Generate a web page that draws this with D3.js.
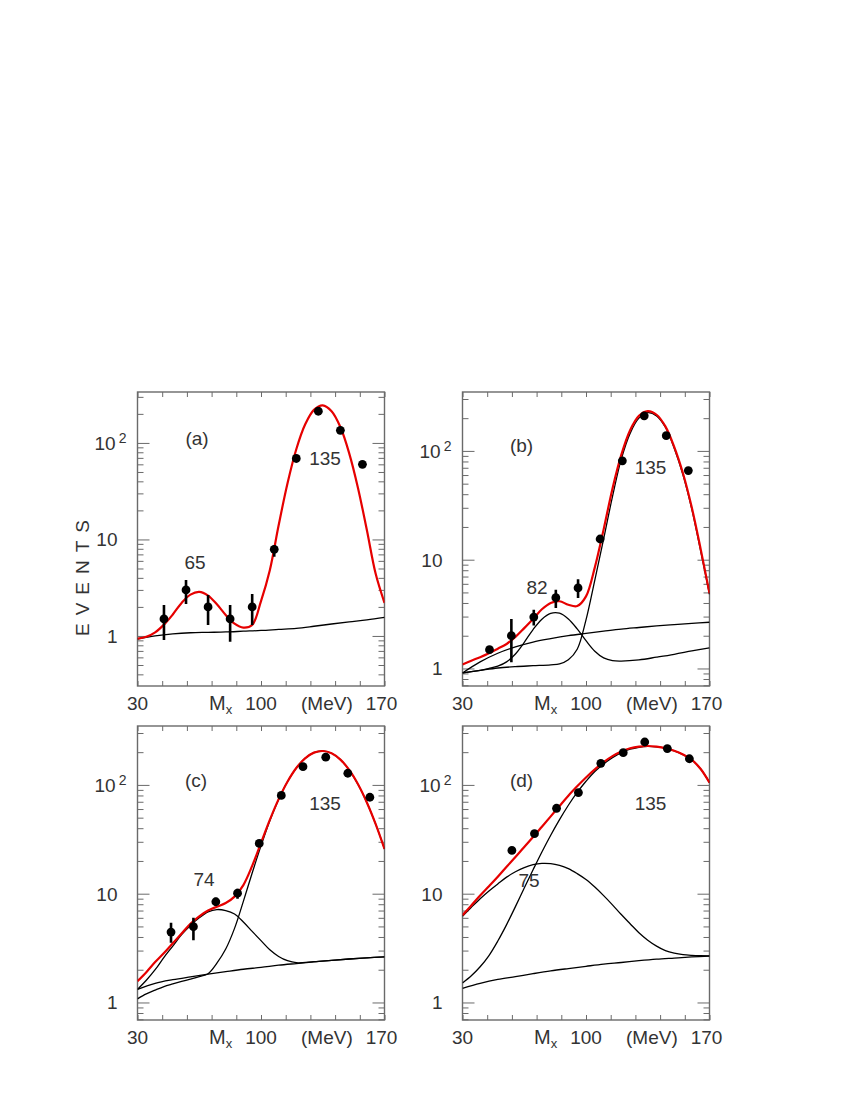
<!DOCTYPE html>
<html>
<head>
<meta charset="utf-8">
<script src="https://cdn.jsdelivr.net/npm/d3@7"></script>
<style>
  body { margin: 0; background: #fff; }
  svg text { font-family: "Liberation Sans", Arial, sans-serif; fill: #333; }
</style>
</head>
<body>
<svg id="chart" width="850" height="1100"></svg>
<script>
// ---- data ----
const xTickValues = [30, 44, 58, 72, 86, 100, 114, 128, 142, 156, 170];
const xTickLabelValues = [30, 100, 170];
const xTickLabels = ['30', '100', '170'];
const yTickLabelValues = [1, 10, 100];
const yTickBase = ['1', '10', '10'];
const yTickExp = ['', '', '2'];

// (a)
const massA = [45, 57.5, 70, 82.5, 95, 107.5, 120, 132.5, 145, 157.5];
const eventsA = [1.5, 3.0, 2.0, 1.5, 2.0, 7.9, 69, 213, 135, 60];
const errLoA = [0.91, 2.14, 1.3, 0.87, 1.3, 6.6, null, null, null, null];
const errHiA = [2.09, 3.8, 2.66, 2.09, 2.72, 8.7, null, null, null, null];
const fitA = [[30, 0.94], [35, 0.98], [40, 1.09], [45, 1.31], [50, 1.67], [55, 2.2], [60, 2.68], [65, 2.86],
  [70, 2.62], [75, 2.13], [80, 1.65], [85, 1.34], [90, 1.22], [95, 1.3], [100, 2.3], [105, 4.8], [110, 14],
  [115, 38], [120, 86], [125, 155], [130, 220], [135, 245], [140, 213], [145, 146], [150, 78], [155, 34],
  [160, 12.5], [165, 4.4], [170, 2.2]];
const bgA = [[30, 0.93], [40, 1.0], [50, 1.05], [60, 1.08], [70, 1.09], [80, 1.1], [90, 1.12], [100, 1.14],
  [110, 1.17], [120, 1.2], [130, 1.26], [140, 1.33], [150, 1.4], [160, 1.47], [170, 1.56]];

// (b)
const massB = [45.3, 57.7, 70.4, 82.9, 95.5, 108, 120.6, 133, 145.5, 158];
const eventsB = [1.49, 2.0, 2.97, 4.47, 5.5, 15.5, 81, 210, 138, 66];
const errLoB = [null, 1.14, 2.48, 3.59, 4.44, null, null, null, null, null];
const errHiB = [null, 2.85, 3.47, 5.29, 6.62, null, null, null, null, null];
const fitB = [[30, 1.09], [35, 1.18], [40, 1.27], [45, 1.38], [50, 1.52], [55, 1.68], [60, 1.95], [65, 2.35],
  [70, 2.85], [75, 3.5], [80, 4.0], [85, 4.15], [90, 3.85], [95, 3.75], [100, 4.6], [105, 8.5], [110, 19],
  [115, 45], [120, 92], [125, 155], [130, 210], [135, 232], [140, 215], [145, 168], [150, 109], [155, 62],
  [160, 30], [165, 12.5], [170, 4.9]];
const bgB = [[30, 0.91], [40, 1.15], [50, 1.38], [60, 1.58], [70, 1.75], [80, 1.88], [90, 2.0], [100, 2.1],
  [110, 2.2], [120, 2.3], [130, 2.38], [140, 2.46], [150, 2.53], [160, 2.6], [170, 2.66]];
const peak82B = [[30, 0.91], [40, 0.96], [45, 1.0], [50, 1.05], [55, 1.15], [60, 1.36], [65, 1.74], [70, 2.28],
  [75, 2.84], [80, 3.21], [85, 3.22], [90, 2.85], [95, 2.31], [100, 1.8], [105, 1.44], [110, 1.25], [115, 1.18],
  [120, 1.17], [130, 1.2], [140, 1.27], [150, 1.35], [160, 1.45], [170, 1.55]];
const peak135B = [[30, 0.91], [40, 0.96], [50, 1.01], [60, 1.04], [70, 1.06], [80, 1.08], [85, 1.1], [90, 1.2],
  [95, 1.5], [100, 2.8], [105, 6.5], [110, 15.5], [115, 38], [120, 84], [125, 145], [130, 200], [135, 225],
  [140, 210], [145, 165], [150, 106], [155, 60], [160, 29], [165, 12], [170, 4.8]];

// (c)
const massC = [49.0, 61.7, 74.4, 86.7, 99.0, 111.5, 123.8, 136.7, 149.2, 161.7];
const eventsC = [4.44, 4.97, 8.43, 10.1, 29, 80, 147, 180, 128, 77];
const errLoC = [3.54, 3.74, 7.7, 9.0, null, null, null, null, null, null];
const errHiC = [5.41, 6.01, 9.2, 11.1, null, null, null, null, null, null];
const fitC = [[30, 1.57], [35, 1.9], [40, 2.35], [45, 2.85], [50, 3.5], [55, 4.3], [60, 5.3], [65, 6.2],
  [70, 7.0], [75, 7.6], [80, 8.2], [85, 9.4], [90, 12], [95, 18], [100, 29.3], [105, 47.7], [110, 74],
  [115, 107], [120, 143], [125, 175.5], [130, 198], [135, 205], [140, 195.5], [145, 171], [150, 137.3],
  [155, 101.3], [160, 69], [165, 43.6], [170, 25.8]];
const bgC = [[30, 1.32], [40, 1.5], [50, 1.62], [60, 1.72], [70, 1.82], [80, 1.92], [90, 2.02], [100, 2.1],
  [110, 2.2], [120, 2.28], [130, 2.36], [140, 2.44], [150, 2.51], [160, 2.57], [170, 2.63]];
const peak74C = [[30, 1.32], [35, 1.6], [40, 2.0], [45, 2.6], [50, 3.3], [55, 4.2], [60, 5.1], [65, 6.0],
  [70, 6.8], [75, 7.15], [80, 7.0], [85, 6.5], [90, 5.5], [95, 4.5], [100, 3.7], [105, 3.05], [110, 2.65],
  [115, 2.42], [120, 2.32], [130, 2.37], [140, 2.44], [150, 2.51], [160, 2.57], [170, 2.63]];
const peak135C = [[30, 1.08], [35, 1.2], [40, 1.3], [45, 1.4], [50, 1.48], [55, 1.56], [60, 1.64], [65, 1.73],
  [70, 1.84], [75, 2.3], [80, 3.1], [85, 4.8], [90, 8.5], [95, 15.5], [100, 27.5], [105, 46.8], [110, 73.5],
  [115, 106.9], [120, 142.9], [125, 175.5], [130, 198], [135, 205], [140, 195.5], [145, 171], [150, 137],
  [155, 101], [160, 69], [165, 43.6], [170, 25.8]];

// (d)
const massD = [58.0, 70.8, 83.3, 95.7, 108.4, 121.1, 133.3, 146.1, 158.6];
const eventsD = [25.0, 35.6, 61, 85, 158, 198, 248, 216, 174];
const errLoD = [null, null, null, null, null, null, null, null, null];
const errHiD = [null, null, null, null, null, null, null, null, null];
const fitD = [[30, 6.35], [35, 7.8], [40, 9.6], [45, 11.7], [50, 14.3], [55, 17.7], [60, 21.7], [65, 26.9],
  [70, 33.2], [75, 41.3], [80, 51.4], [85, 64], [90, 79.6], [95, 97], [100, 117], [105, 139], [110, 162],
  [115, 184], [120, 203], [125, 217], [130, 225], [135, 228], [140, 225], [145, 218], [150, 206],
  [155, 190], [160, 170], [165, 140], [170, 105]];
const bgD = [[30, 1.35], [40, 1.5], [50, 1.63], [60, 1.73], [70, 1.84], [80, 1.95], [90, 2.05], [100, 2.15],
  [110, 2.25], [120, 2.33], [130, 2.42], [140, 2.5], [150, 2.56], [160, 2.62], [170, 2.67]];
const peak75D = [[30, 6.2], [35, 7.5], [40, 9.0], [45, 10.6], [50, 12.3], [55, 14.2], [60, 15.9], [65, 17.4],
  [70, 18.5], [75, 19.0], [80, 18.9], [85, 18.2], [90, 17.0], [95, 15.3], [100, 13.5], [105, 11.5],
  [110, 9.6], [115, 7.9], [120, 6.43], [125, 5.3], [130, 4.38], [135, 3.74], [140, 3.3], [145, 3.0],
  [150, 2.84], [155, 2.75], [160, 2.71], [165, 2.69], [170, 2.68]];
const peak135D = [[30, 1.51], [35, 1.76], [40, 2.13], [45, 2.7], [50, 3.67], [55, 5.2], [60, 7.6], [65, 11.3],
  [70, 16.6], [75, 24.2], [80, 34.5], [85, 48], [90, 65], [95, 85.3], [100, 108], [105, 133], [110, 156],
  [115, 178], [120, 198], [125, 213], [130, 222], [135, 226], [140, 224], [145, 217.5], [150, 206],
  [155, 190], [160, 170], [165, 140], [170, 105]];

// peak annotations
const tagLabels = ['(a)', '(b)', '(c)', '(d)'];
const peakTextA = ['65', '135'];
const peakTextB = ['82', '135'];
const peakTextC = ['74', '135'];
const peakTextD = ['75', '135'];

// ---- layout ----
const W = 247, H = 294;
const panels = [
  { left: 137.5, top: 392, yDomain: [0.303, 337], tag: tagLabels[0], tagPos: [59.5, 46],
    mass: massA, events: eventsA, errLo: errLoA, errHi: errHiA, fit: fitA, parts: [bgA],
    peaks: peakTextA, peakPos: [[57.5, 170], [187.5, 66]] },
  { left: 462.5, top: 392, yDomain: [0.69, 348], tag: tagLabels[1], tagPos: [59, 53],
    mass: massB, events: eventsB, errLo: errLoB, errHi: errHiB, fit: fitB, parts: [bgB, peak82B, peak135B],
    peaks: peakTextB, peakPos: [[74.5, 195], [188, 75]] },
  { left: 137.5, top: 726, yDomain: [0.69, 348], tag: tagLabels[2], tagPos: [58.5, 54],
    mass: massC, events: eventsC, errLo: errLoC, errHi: errHiC, fit: fitC, parts: [bgC, peak74C, peak135C],
    peaks: peakTextC, peakPos: [[66.5, 153], [187.5, 77]] },
  { left: 462.5, top: 726, yDomain: [0.69, 348], tag: tagLabels[3], tagPos: [59, 54],
    mass: massD, events: eventsD, errLo: errLoD, errHi: errHiD, fit: fitD, parts: [bgD, peak75D, peak135D],
    peaks: peakTextD, peakPos: [[66.5, 154], [188, 77]] },
];

const svg = d3.select('#chart');
const FONT = 19;
const frameColor = '#6a6a6a';

panels.forEach((p, i) => {
  const x = d3.scaleLinear().domain([30, 170]).range([0, W]);
  const y = d3.scaleLog().domain(p.yDomain).range([H, 0]);
  const g = svg.append('g').attr('transform', `translate(${p.left},${p.top})`);

  g.append('clipPath').attr('id', 'clip' + i)
    .append('rect').attr('width', W).attr('height', H);

  // x ticks (inside, top and bottom)
  const xb = g.append('g').attr('transform', `translate(0,${H})`)
    .call(d3.axisTop(x).tickValues(xTickValues).tickSize(5).tickFormat(''));
  const xt = g.append('g')
    .call(d3.axisBottom(x).tickValues(xTickValues).tickSize(5).tickFormat(''));

  // y ticks (inside, left and right), long ticks on decades
  const yl = g.append('g').call(d3.axisRight(y).tickSize(6).tickFormat(''));
  const yr = g.append('g').attr('transform', `translate(${W},0)`)
    .call(d3.axisLeft(y).tickSize(6).tickFormat(''));
  const isDecade = (v) => Math.abs(Math.log10(v) - Math.round(Math.log10(v))) < 1e-6;
  yl.selectAll('.tick line').attr('x2', (d) => (isDecade(d) ? 12 : 6));
  yr.selectAll('.tick line').attr('x2', (d) => (isDecade(d) ? -12 : -6));

  [xb, xt, yl, yr].forEach((a) => {
    a.select('.domain').remove();
    a.selectAll('.tick line').attr('stroke', frameColor).attr('stroke-width', 1);
  });

  g.append('rect').attr('width', W).attr('height', H)
    .attr('fill', 'none').attr('stroke', frameColor).attr('stroke-width', 1.4);

  // y tick labels
  yTickLabelValues.forEach((v, k) => {
    const t = g.append('text')
      .attr('x', -20).attr('y', y(v)).attr('dy', '0.36em')
      .attr('text-anchor', 'end').style('font-size', FONT + 'px')
      .text(yTickBase[k]);
    if (yTickExp[k]) {
      t.attr('text-anchor', 'start').attr('x', -43);
      t.append('tspan').attr('dy', '-0.45em').style('font-size', '14px').attr('dx', 3).text(yTickExp[k]);
    }
  });

  // x tick labels
  xTickLabelValues.forEach((v, k) => {
    g.append('text')
      .attr('x', x(v) - (v === 170 ? 3 : 0)).attr('y', H + 24)
      .attr('text-anchor', 'middle').style('font-size', FONT + 'px')
      .text(xTickLabels[k]);
  });
  const mx = g.append('text').attr('x', x(100) - 52).attr('y', H + 24).style('font-size', '20px').text('M');
  mx.append('tspan').attr('dy', 4).style('font-size', '13px').text('x');
  g.append('text').attr('x', x(100) + 40).attr('y', H + 24).style('font-size', FONT + 'px').text('(MeV)');

  // curves
  const line = d3.line()
    .x((d) => x(d[0]))
    .y((d) => y(d[1]))
    .curve(d3.curveCatmullRom.alpha(0.5));
  const plot = g.append('g').attr('clip-path', `url(#clip${i})`);
  p.parts.forEach((c) => {
    plot.append('path').attr('d', line(c)).attr('fill', 'none')
      .attr('stroke', '#000').attr('stroke-width', 1.3);
  });
  plot.append('path').attr('d', line(p.fit)).attr('fill', 'none')
    .attr('stroke', '#e60000').attr('stroke-width', 2.2);

  // error bars and points
  p.mass.forEach((m, k) => {
    if (p.errLo[k] != null) {
      plot.append('line')
        .attr('x1', x(m)).attr('x2', x(m))
        .attr('y1', y(p.errLo[k])).attr('y2', y(p.errHi[k]))
        .attr('stroke', '#000').attr('stroke-width', 2.6);
    }
  });
  plot.selectAll('circle.pt').data(p.mass).enter().append('circle')
    .attr('class', 'pt')
    .attr('cx', (m) => x(m))
    .attr('cy', (m, k) => y(p.events[k]))
    .attr('r', 4.4).attr('fill', '#000');

  // annotations
  g.append('text').attr('x', p.tagPos[0]).attr('y', p.tagPos[1]).attr('dy', '0.36em')
    .attr('text-anchor', 'middle').style('font-size', FONT + 'px').text(p.tag);
  p.peaks.forEach((t, k) => {
    g.append('text').attr('x', p.peakPos[k][0]).attr('y', p.peakPos[k][1]).attr('dy', '0.36em')
      .attr('text-anchor', 'middle').style('font-size', FONT + 'px').text(t);
  });
});

// vertical axis title
svg.append('text')
  .attr('transform', 'translate(89,574) rotate(-90)')
  .attr('text-anchor', 'middle')
  .style('font-size', FONT + 'px')
  .style('letter-spacing', '8px')
  .text('EVENTS');
</script>
</body>
</html>
